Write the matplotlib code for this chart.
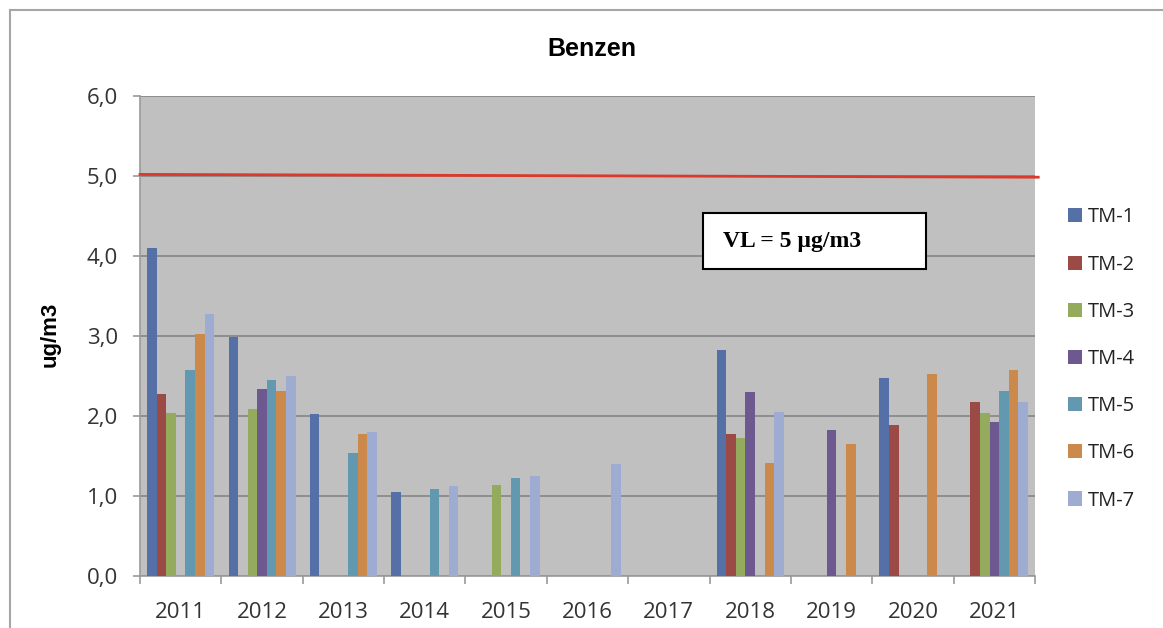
import matplotlib
matplotlib.use("Agg")
import matplotlib.pyplot as plt
from matplotlib.patches import Rectangle
from matplotlib.lines import Line2D
import numpy as np

nan = np.nan

years = ['2011', '2012', '2013', '2014', '2015', '2016', '2017', '2018', '2019', '2020', '2021']
series_names = ['TM-1', 'TM-2', 'TM-3', 'TM-4', 'TM-5', 'TM-6', 'TM-7']

tm1 = [4.10, 2.99, 2.02, 1.05, nan, nan, nan, 2.83, nan, 2.47, nan]
tm2 = [2.28, nan, nan, nan, nan, nan, nan, 1.78, nan, 1.89, 2.18]
tm3 = [2.04, 2.09, nan, nan, 1.14, nan, nan, 1.73, nan, nan, 2.04]
tm4 = [nan, 2.34, nan, nan, nan, nan, nan, 2.30, 1.83, nan, 1.92]
tm5 = [2.58, 2.45, 1.54, 1.09, 1.23, nan, nan, nan, nan, nan, 2.31]
tm6 = [3.03, 2.31, 1.77, nan, nan, nan, nan, 1.41, 1.65, 2.53, 2.57]
tm7 = [3.27, 2.50, 1.80, 1.12, 1.25, 1.40, nan, 2.05, nan, nan, 2.18]

limit_value = 5.0
limit_line = [5.02, 4.985]  # the drawn limit line tilts a little in the original

colors = ['#5470a6', '#9c4a45', '#94aa5c', '#6e5890', '#6299b0', '#cb8a4c', '#9eacd2']

fig = plt.figure(figsize=(11.63, 6.28), dpi=100)
plt.rcParams['font.family'] = ['Open Sans', 'DejaVu Sans']

# outer chart frame (cut off at right and bottom)
fig.add_artist(Line2D([10 / 1163, 10 / 1163], [1 - 10 / 628, 0], color='#a6a6a6', lw=1.5))
fig.add_artist(Line2D([10 / 1163, 1], [1 - 10 / 628, 1 - 10 / 628], color='#a6a6a6', lw=1.5))

ax = fig.add_axes([140 / 1163, 52 / 628, 895 / 1163, 480 / 628])
ax.set_facecolor('#c0c0c0')

x = np.arange(len(years))
w = 1 / 8.5
all_series = [tm1, tm2, tm3, tm4, tm5, tm6, tm7]
for i, vals in enumerate(all_series):
    ax.bar(x + (i - 3) * w, vals, width=w, color=colors[i], label=series_names[i], zorder=3)

ax.plot([-0.5, 10.54], limit_line, color='#d93a2b', lw=2.0, zorder=4, clip_on=False)

ax.set_xlim(-0.5, 10.5)
ax.set_ylim(0, 6)
ax.set_yticks(np.arange(0, 7, 1.0))
ax.set_yticklabels([('%.1f' % v).replace('.', ',') for v in np.arange(0, 7, 1.0)])
ax.yaxis.grid(True, color='#8e8e8e', lw=1.4, zorder=0)
ax.set_axisbelow(True)

ax.set_xticks(x)
ax.set_xticklabels(years)
ax.set_xticks(np.arange(-0.5, 11, 1), minor=True)
ax.tick_params(axis='x', which='major', length=0, pad=19, labelsize=16, labelcolor='#333333')
ax.tick_params(axis='x', which='minor', length=6, color='#9a9a9a', width=1.2)
ax.tick_params(axis='y', length=5, color='#9a9a9a', width=1.2, labelsize=16, labelcolor='#333333', pad=11)

for s in ['top', 'right']:
    ax.spines[s].set_visible(False)
ax.spines['left'].set_color('#9a9a9a')
ax.spines['bottom'].set_color('#9a9a9a')
ax.spines['left'].set_linewidth(1.2)
ax.spines['bottom'].set_linewidth(1.2)

fig.text(592 / 1163, 1 - 49 / 628, 'Benzen', ha='center', va='center', fontsize=18,
         fontweight='bold', family=['Liberation Sans', 'DejaVu Sans'])
fig.text(50 / 1163, 1 - 334 / 628, 'ug/m3', ha='center', va='center', rotation=90, fontsize=16,
         fontweight='bold', family=['Liberation Sans', 'DejaVu Sans'])

# VL text box
fig.add_artist(Rectangle((703 / 1163, 1 - 269 / 628), 223 / 1163, 56 / 628, transform=fig.transFigure,
                         facecolor='white', edgecolor='black', lw=1.5, zorder=5))
fig.text(723 / 1163, 1 - 241 / 628, 'VL = %d µg/m3' % limit_value, ha='left', va='center', fontsize=17,
         fontweight='bold', family=['Liberation Serif', 'DejaVu Serif'], zorder=6)

leg = ax.legend(loc='center left', bbox_to_anchor=(1050 / 1163, 1 - 359 / 628),
                bbox_transform=fig.transFigure, frameon=False, fontsize=14.5,
                handlelength=0.7, handleheight=0.7, handletextpad=0.3, labelspacing=1.35)
for t in leg.get_texts():
    t.set_color('#222222')

fig.savefig('out.png', dpi=100)
